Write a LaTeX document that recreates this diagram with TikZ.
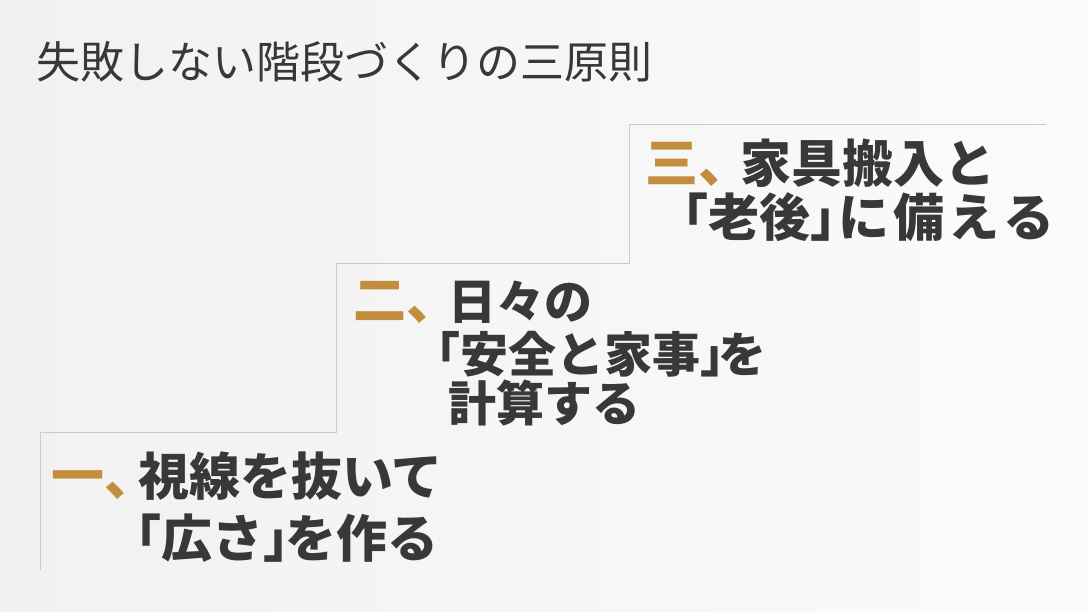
\documentclass[tikz,border=0pt]{standalone}
\usepackage{fontspec}
\newfontfamily\jp{Noto Sans CJK JP}
\definecolor{ink}{HTML}{383838}
\definecolor{gold}{HTML}{C28E3E}
\definecolor{stairc}{HTML}{CBCBCB}
\definecolor{bgl}{HTML}{F1F1F1}
\definecolor{bgr}{HTML}{FBFBFB}
\newcommand{\lbk}{\makebox[0.5em][r]{「}}
\newcommand{\rbk}{\makebox[0.5em][l]{」}}
\newcommand{\tten}{\makebox[0.5em][l]{、}}
\newcommand{\gnum}[1]{{\color{gold}\fontsize{53}{53}\selectfont #1\tten}}
\tikzset{
  txt/.style={anchor=base west, inner sep=0pt, text=ink, font=\jp\bfseries\fontsize{51}{51}\selectfont},
  txtm/.style={txt, font=\jp\bfseries\fontsize{48}{48}\selectfont},
  ttl/.style={anchor=base west, inner sep=0pt, text=ink, font=\jp\fontsize{44}{44}\selectfont},
  stair/.style={draw=stairc, line width=1pt}
}
\begin{document}
\begin{tikzpicture}[x=1pt,y=-1pt]
\shade[left color=bgl, right color=bgr] (0,0) rectangle (1088,612);
\useasboundingbox (0,0) rectangle (1088,612);
% staircase
\coordinate (p0) at (40,570);
\coordinate (p1) at (40,433);
\coordinate (p2) at (336,433);
\coordinate (p3) at (336,264);
\coordinate (p4) at (629,264);
\coordinate (p5) at (629,125);
\coordinate (p6) at (1046,125);
\draw[stair] (p0) -- (p1) -- (p2) -- (p3) -- (p4) -- (p5) -- (p6);
% title
\node[ttl] (title) at (36,79) {失敗しない階段づくりの三原則};
% step 1
\node[txt] (s1a) at (51,495) {\gnum{一}\kern7.5pt 視線を抜いて};
\node[txt] (s1b) at (136,557) {\lbk 広さ\rbk\kern-4pt を作る};
% step 2
\node[txtm] (s2a) at (353,320) {\gnum{二}\kern15.5pt 日々の};
\node[txtm] (s2b) at (436,373) {\lbk 安全と家事\rbk\kern-6pt を};
\node[txtm] (s2c) at (448,421) {計算する};
% step 3
\node[txt] (s3a) at (645,183) {\gnum{三}\kern15.5pt 家具搬入と};
\node[txt] (s3b) at (683,237) {\lbk 老後\rbk\kern2pt に\kern4pt 備\kern4pt え\kern4pt る};
\end{tikzpicture}
\end{document}
